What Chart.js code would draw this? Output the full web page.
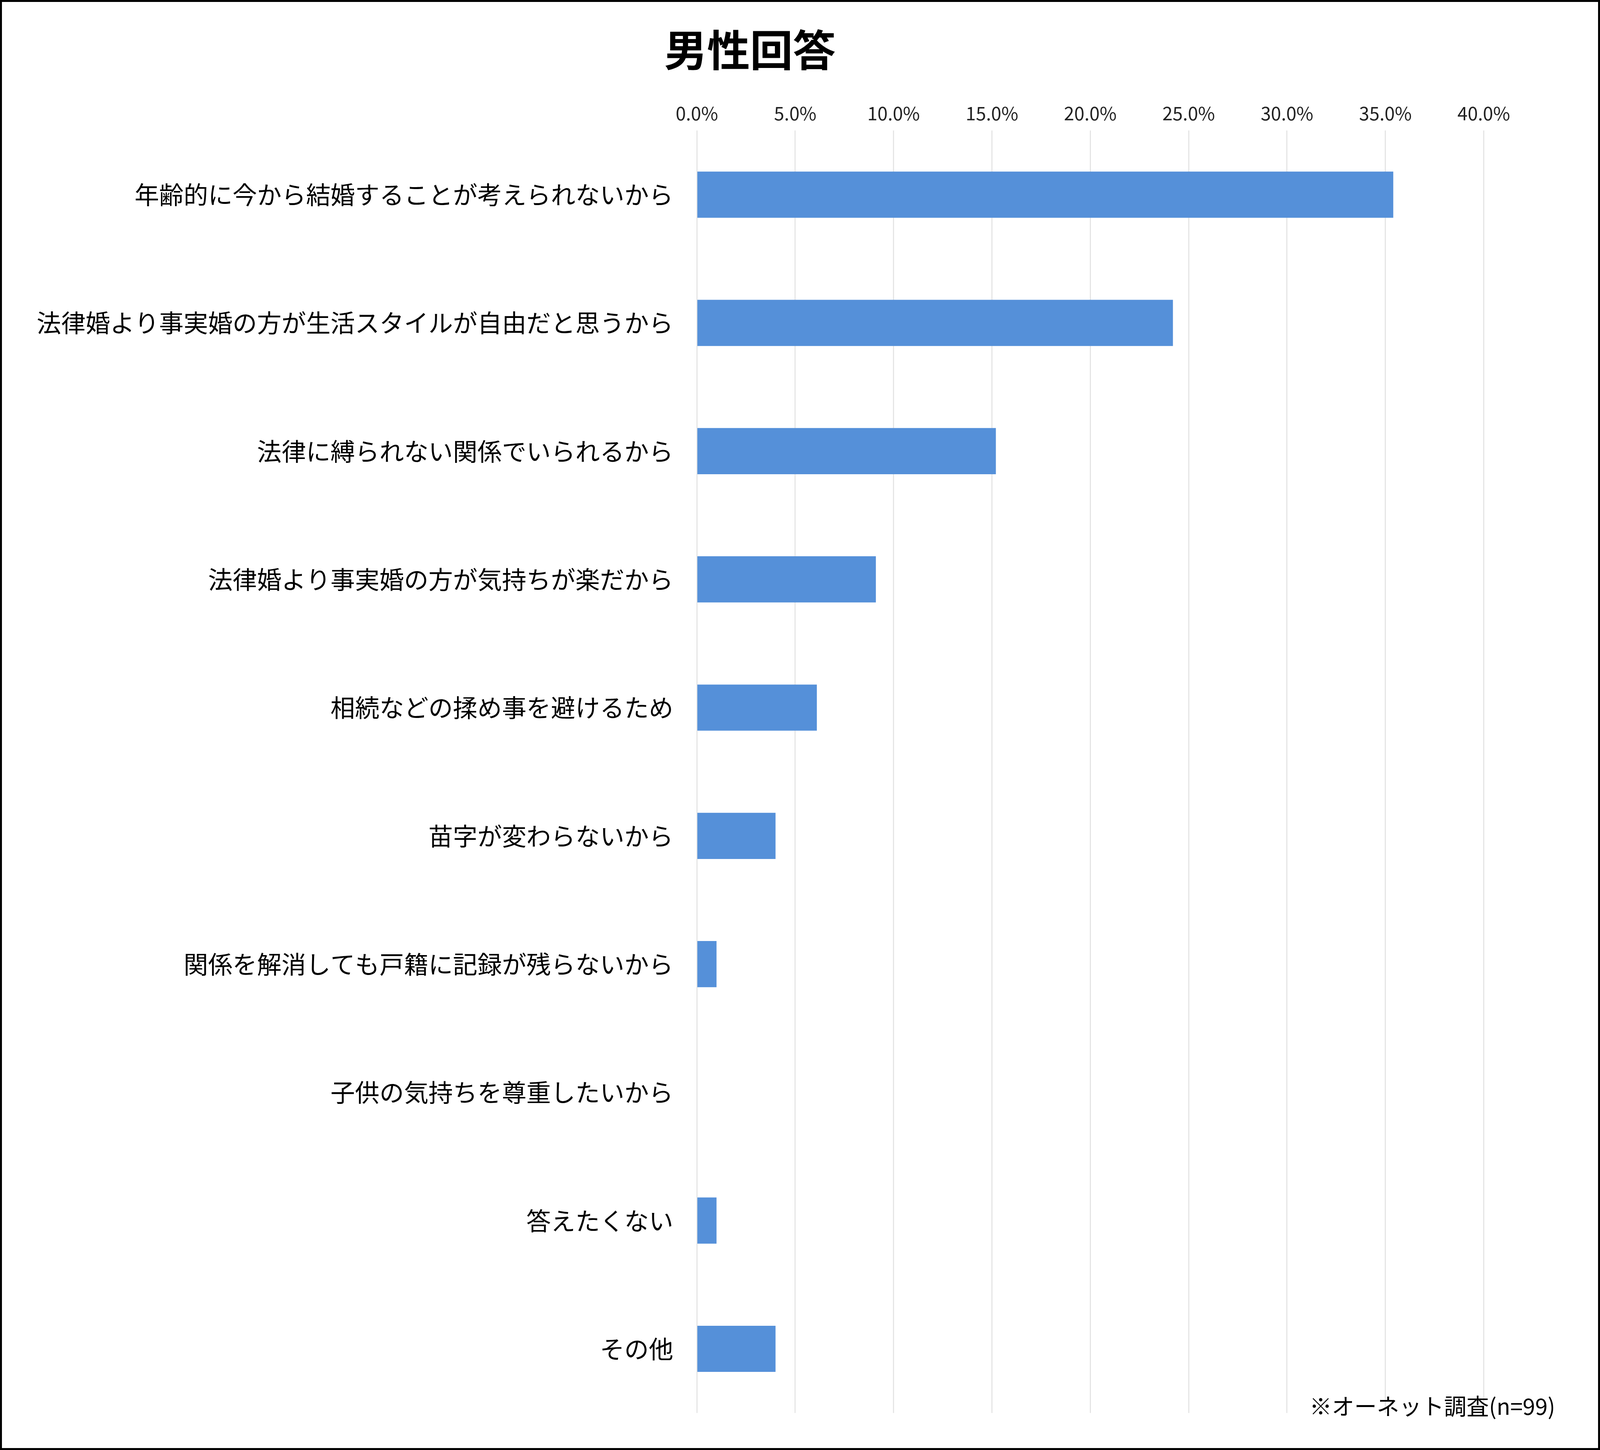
<!DOCTYPE html>
<html><head><meta charset="utf-8">
<script src="https://cdn.jsdelivr.net/npm/chart.js@4/dist/chart.umd.min.js"></script>
<style>
html,body{margin:0;padding:0;background:#fff;overflow:hidden}
#wrap{position:relative;width:100vw;height:100vh;box-sizing:border-box;border:solid #000}
#cw{position:absolute;inset:0}
#note{position:absolute;color:#000;font-family:"Noto Sans CJK JP"}
</style></head><body>
<div id="wrap"><div id="cw"><canvas id="c"></canvas></div><div id="note">※オーネット調査(n=99)</div></div>
<script>
const categories=["年齢的に今から結婚することが考えられないから","法律婚より事実婚の方が生活スタイルが自由だと思うから","法律に縛られない関係でいられるから","法律婚より事実婚の方が気持ちが楽だから","相続などの揉め事を避けるため","苗字が変わらないから","関係を解消しても戸籍に記録が残らないから","子供の気持ちを尊重したいから","答えたくない","その他"];
const values=[35.4,24.2,15.2,9.1,6.1,4.0,1.0,0,1.0,4.0];
const title="男性回答";
const s=window.innerWidth/1568;
const wrap=document.getElementById('wrap');wrap.style.borderWidth=(2*s)+'px';
const note=document.getElementById('note');
note.style.fontSize=(22*s)+'px';note.style.right=(42*s)+'px';note.style.bottom=(26*s)+'px';
Chart.defaults.font.family='"Noto Sans CJK JP","Noto Sans",sans-serif';
new Chart(document.getElementById('c'),{type:'bar',
data:{labels:categories,datasets:[{data:values,backgroundColor:'#5590D9',barPercentage:0.36,categoryPercentage:1}]},
options:{indexAxis:'y',responsive:true,maintainAspectRatio:false,animation:false,
layout:{padding:{top:14*s,right:112*s,bottom:20*s,left:14*s}},
plugins:{legend:{display:false},tooltip:{enabled:false},
title:{display:true,text:title,color:'#000',font:{size:42*s,weight:'bold'},padding:{top:8*s,bottom:20*s}}},
scales:{x:{position:'top',min:0,max:40,ticks:{stepSize:5,color:'#222',font:{size:18*s},padding:6*s,callback:v=>v.toFixed(1)+'%'},grid:{color:'#e2e2e2',lineWidth:Math.max(1,s),drawTicks:false},border:{display:false}},
y:{ticks:{color:'#000',font:{size:24*s},padding:20*s},grid:{display:false},border:{display:false}}}}});
</script></body></html>
